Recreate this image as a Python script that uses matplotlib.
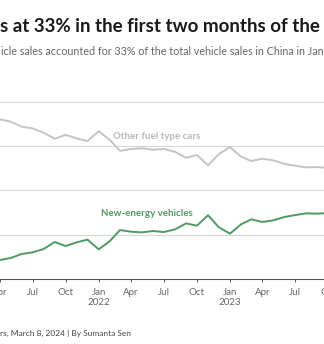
import datetime as dt
import matplotlib
matplotlib.use("Agg")
import matplotlib.pyplot as plt
import matplotlib.dates as mdates

plt.rcParams['font.family'] = ['Lato', 'DejaVu Sans']

# monthly share of total vehicle sales (%), Apr 2021 - Oct 2023
months = [dt.date(2021 + (3 + i) // 12, (3 + i) % 12 + 1, 1) for i in range(31)]
other_fuel = [90.2, 88.9, 86.0, 85.1, 82.6, 79.2, 81.4, 79.4, 77.9,
              83.5, 78.5, 72.4, 73.4, 73.8, 73.0, 73.4, 71.8, 68.4, 70.0, 64.1, 70.5,
              74.5, 69.0, 66.6, 67.9, 67.0, 65.0, 63.9, 63.0, 63.2, 62.6]
new_energy = [10.6, 11.7, 14.0, 14.9, 16.8, 20.8, 18.5, 20.6, 22.1,
              16.6, 21.3, 27.5, 26.6, 26.2, 27.0, 26.4, 27.9, 31.3, 30.0, 35.9, 29.1,
              25.5, 30.8, 33.6, 32.1, 33.0, 34.9, 36.0, 37.0, 36.8, 37.2]

tick_dates = [dt.date(2021, 4, 1), dt.date(2021, 7, 1), dt.date(2021, 10, 1),
              dt.date(2022, 1, 1), dt.date(2022, 4, 1), dt.date(2022, 7, 1),
              dt.date(2022, 10, 1), dt.date(2023, 1, 1), dt.date(2023, 4, 1),
              dt.date(2023, 7, 1), dt.date(2023, 10, 1)]
tick_labels = ['Apr', 'Jul', 'Oct', 'Jan\n2022', 'Apr', 'Jul', 'Oct',
               'Jan\n2023', 'Apr', 'Jul', 'Oct']

W, H = 324, 344
fig = plt.figure(figsize=(W / 100, H / 100), dpi=100)

# axes runs past the figure edges (the reference is a crop)
px_left, px_right = -30, 354
y0_px = 278.7           # y=0 baseline, from top
px_per_unit = 1.767
ymax = 105
ax = fig.add_axes([px_left / W, (H - y0_px) / H,
                   (px_right - px_left) / W, ymax * px_per_unit / H])

jan22 = mdates.date2num(dt.date(2022, 1, 1))
px_per_day = (230 - 98.7) / 365
ax.set_xlim(jan22 - (98.7 - px_left) / px_per_day,
            jan22 + (px_right - 98.7) / px_per_day)
ax.set_ylim(0, ymax)

ax.plot(months, other_fuel, color='#c4c4c4', lw=1.4, solid_joinstyle='round')
ax.plot(months, new_energy, color='#4f9a63', lw=1.4, solid_joinstyle='round')

ax.set_yticks([25, 50, 75, 100])
ax.yaxis.grid(True, color='#d8d8d8', lw=0.8)
ax.tick_params(axis='y', length=0, labelleft=False)
for s in ['top', 'left', 'right']:
    ax.spines[s].set_visible(False)
ax.spines['bottom'].set_color('#555555')
ax.spines['bottom'].set_linewidth(0.8)

ax.set_xticks([mdates.date2num(d) for d in tick_dates])
ax.set_xticklabels(tick_labels, fontsize=7, color='#666666', linespacing=1.15)
ax.tick_params(axis='x', direction='out', length=2.5, width=0.7,
               color='#555555', pad=4.5)

ax.text(mdates.date2num(dt.date(2022, 6, 12)), 80.5, 'Other fuel type cars',
        fontsize=7, fontweight='bold', color='#b9b9b9', ha='center', va='center')
ax.text(mdates.date2num(dt.date(2022, 5, 14)), 37, 'New-energy vehicles',
        fontsize=7, fontweight='bold', color='#4f9a63', ha='center', va='center')

fig.text(0.5 / W, 1 - 32 / H, 's at 33% in the first two months of the year',
         fontsize=13.5, fontweight='bold', color='#1a1a1a', va='baseline')
fig.text(1 / W, 1 - 55 / H,
         'icle sales accounted for 33% of the total vehicle sales in China in Jan',
         fontsize=7.75, color='#666666', va='baseline')
fig.text(0 / W, 1 - 335.5 / H, 'rs, March 8, 2024 | By Sumanta Sen',
         fontsize=6, color='#444444', va='baseline')

fig.savefig('out.png', dpi=100)
